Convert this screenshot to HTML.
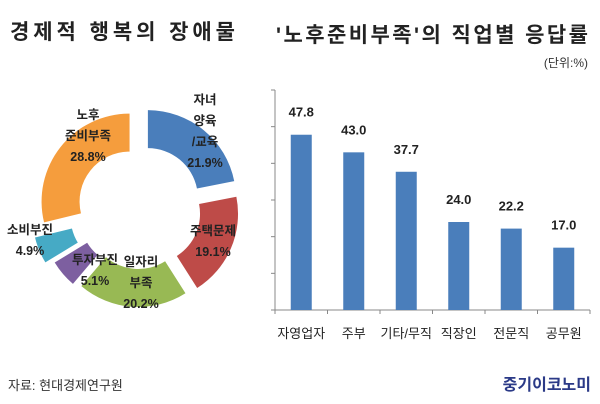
<!DOCTYPE html>
<html><head><meta charset="utf-8"><style>
body{margin:0;width:600px;height:404px;background:#fff;overflow:hidden;font-family:"Liberation Sans","Noto Sans CJK KR",sans-serif;}
svg{position:absolute;left:0;top:0}
text{font-family:"Liberation Sans","Noto Sans CJK KR",sans-serif;}
</style></head><body>
<svg width="600" height="404">
<text x="10" y="39" font-size="21" font-weight="bold" fill="#222" textLength="225">경제적 행복의 장애물</text>
<text x="276" y="42" font-size="21" font-weight="bold" fill="#222" textLength="312">'노후준비부족'의 직업별 응답률</text>
<text x="588" y="67" font-size="12" text-anchor="end" fill="#333">(단위:%)</text>
<g id="donut"></g>
<g id="bars"></g>
<text x="8" y="390" font-size="13" fill="#333">자료: 현대경제연구원</text>
<text x="591" y="390" font-size="16" font-weight="bold" text-anchor="end" fill="#2b3a87">중기이코노미</text>
</svg>
<script>
const NS="http://www.w3.org/2000/svg";
// donut data
const donutLabels=[["자녀","양육","/교육"],["주택문제"],["일자리","부족"],["투자부진"],["소비부진"],["노후","준비부족"]];
const donutValues=[21.9,19.1,20.2,5.1,4.9,28.8];
const donutColors=["#4a7ebb","#be4b48","#98b954","#7d5fa0","#46aac5","#f59d3d"];
const explode=[14,12,10,12,20,12];
const labelPos=[[205,104],[213,235],[141,266],[95,264],[30,234],[88,119]];
const cx=139,cy=209,R=88,r=50;
const dg=document.getElementById('donut');
function pt(a,rad,ox,oy){return [ox+rad*Math.sin(a),oy-rad*Math.cos(a)];}
let acc=0;
const total=donutValues.reduce((a,b)=>a+b,0);
donutValues.forEach((v,i)=>{
  const a0=acc/total*2*Math.PI; acc+=v; const a1=acc/total*2*Math.PI;
  const am=(a0+a1)/2, ox=cx+explode[i]*Math.sin(am), oy=cy-explode[i]*Math.cos(am);
  const p1=pt(a0,R,ox,oy),p2=pt(a1,R,ox,oy),p3=pt(a1,r,ox,oy),p4=pt(a0,r,ox,oy);
  const lg=(a1-a0)>Math.PI?1:0;
  const p=document.createElementNS(NS,'path');
  p.setAttribute('d',`M${p1}A${R},${R} 0 ${lg} 1 ${p2}L${p3}A${r},${r} 0 ${lg} 0 ${p4}Z`);
  p.setAttribute('fill',donutColors[i]);
  
  
  dg.appendChild(p);
  const lines=donutLabels[i].concat([v.toFixed(1)+'%']);
  const [lx,ly]=labelPos[i];
  lines.forEach((s,j)=>{
    const t=document.createElementNS(NS,'text');
    t.setAttribute('x',lx);t.setAttribute('y',ly+j*21);
    t.setAttribute('text-anchor','middle');t.setAttribute('font-size','12.5');t.setAttribute('font-weight','bold');t.setAttribute('fill','#222');
    t.textContent=s;
    
    
    dg.appendChild(t);
  });
});
// bar data
const categories=["자영업자","주부","기타/무직","직장인","전문직","공무원"];
const values=[47.8,43.0,37.7,24.0,22.2,17.0];
const yTicks=[0,10,20,30,40,50,60];
const bg=document.getElementById('bars');
const x0=275,x1=590,y0=310,yTop=90,ymax=60;
const ys=v=>y0-(v/ymax)*(y0-yTop);
const band=(x1-x0)/categories.length;
function add(tag,attrs,txt){const e=document.createElementNS(NS,tag);for(const k in attrs)e.setAttribute(k,attrs[k]);if(txt!=null)e.textContent=txt;bg.appendChild(e);return e;}
let e=add('line',{x1:x0,y1:yTop,x2:x0,y2:y0,stroke:'#888'});

e=add('line',{x1:x0,y1:y0,x2:x1,y2:y0,stroke:'#888'});

yTicks.forEach(t=>{const l=add('line',{x1:x0-4,y1:ys(t),x2:x0,y2:ys(t),stroke:'#888'});
});
for(let i=0;i<=categories.length;i++){const l=add('line',{x1:x0+i*band,y1:y0,x2:x0+i*band,y2:y0+4,stroke:'#888'});
}
categories.forEach((c,i)=>{
  const cxm=x0+band*(i+0.5);
  const b=add('rect',{x:cxm-10.5,y:ys(values[i]),width:21,height:y0-ys(values[i]),fill:'#4a7ebb'});
  
  const v=add('text',{x:cxm,y:ys(values[i])-18,'text-anchor':'middle','font-size':'13','font-weight':'bold',fill:'#222'},values[i].toFixed(1));
  
  const t=add('text',{x:cxm,y:338,'text-anchor':'middle','font-size':'13',fill:'#222'},c);
  
});
</script>
</body></html>
